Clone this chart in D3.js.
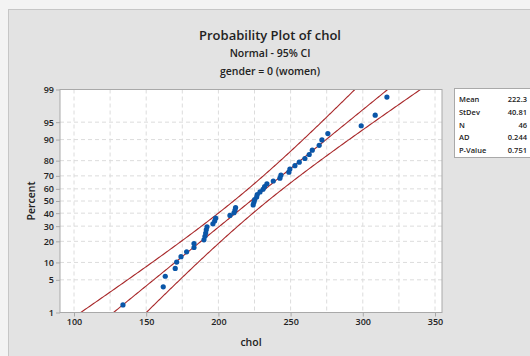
<!DOCTYPE html>
<html><head><meta charset="utf-8">
<script src="https://cdn.jsdelivr.net/npm/d3@7"></script>
<style>
body{margin:0;background:#f3f3f3;}
svg text{font-family:"Open Sans",sans-serif;}
</style></head>
<body><svg id="c" width="530" height="356"></svg>
<script>
// ---- data ----
const chol = [133.9,161.8,163.2,170.1,171.1,174.1,178.0,183.1,183.1,190.0,190.7,191.2,191.6,192.1,196.2,197.4,198.1,208.0,210.8,211.5,211.9,224.1,224.6,225.1,226.5,226.9,228.8,230.9,232.0,233.6,238.0,242.6,243.3,248.8,249.5,253.0,256.0,259.9,262.9,265.0,269.8,271.7,275.8,298.9,308.6,316.7];
const xTicks = [100,150,200,250,300,350];
const xGrid = [100,125,150,175,200,225,250,275,300,325,350];
const yTicks = [1,5,10,20,30,40,50,60,70,80,90,95,99];
const statLabels = ["Mean","StDev","N","AD","P-Value"];
const statValues = ["222.3","40.81","46","0.244","0.751"];
const mean = 222.3, sd = 40.81, n = 46;

// inverse normal CDF (Acklam)
function probit(p){
  const a=[-3.969683028665376e+01,2.209460984245205e+02,-2.759285104469687e+02,1.383577518672690e+02,-3.066479806614716e+01,2.506628277459239e+00];
  const b=[-5.447609879822406e+01,1.615858368580409e+02,-1.556989798598866e+02,6.680131188771972e+01,-1.328068155288572e+01];
  const c=[-7.784894002430293e-03,-3.223964580411365e-01,-2.400758277161838e+00,-2.549732539343734e+00,4.374664141464968e+00,2.938163982698783e+00];
  const d=[7.784695709041462e-03,3.224671290700398e-01,2.445134137142996e+00,3.754408661907416e+00];
  const pl=0.02425;
  if(p<pl){const q=Math.sqrt(-2*Math.log(p));return (((((c[0]*q+c[1])*q+c[2])*q+c[3])*q+c[4])*q+c[5])/((((d[0]*q+d[1])*q+d[2])*q+d[3])*q+1);}
  if(p>1-pl){const q=Math.sqrt(-2*Math.log(1-p));return -(((((c[0]*q+c[1])*q+c[2])*q+c[3])*q+c[4])*q+c[5])/((((d[0]*q+d[1])*q+d[2])*q+d[3])*q+1);}
  const q=p-0.5,r=q*q;
  return (((((a[0]*r+a[1])*r+a[2])*r+a[3])*r+a[4])*r+a[5])*q/(((((b[0]*r+b[1])*r+b[2])*r+b[3])*r+b[4])*r+1);
}

const svg = d3.select("#c");
// panel
svg.append("rect").attr("x",8.5).attr("y",9.5).attr("width",530).attr("height",360)
  .attr("fill","#e3e3e3").attr("stroke","#c6c6c6");

const L=60, R=442, T=89.5, B=312.5;
const x = d3.scaleLinear().domain([100,350]).range([74,435]);
const yz = d3.scaleLinear().domain([probit(0.01),probit(0.99)]).range([B,T]);
const y = p => yz(probit(p/100));

svg.append("rect").attr("x",L).attr("y",T).attr("width",R-L).attr("height",B-T).attr("fill","#fff");

// grid
const g = svg.append("g");
g.selectAll(".gx").data(xGrid).join("line")
  .attr("x1",d=>x(d)).attr("x2",d=>x(d)).attr("y1",T).attr("y2",B)
  .attr("stroke","#dcdcdc").attr("stroke-dasharray","4,3");
g.selectAll(".gy").data(yTicks.filter(d=>d>1&&d<99)).join("line")
  .attr("x1",L).attr("x2",R).attr("y1",d=>y(d)).attr("y2",d=>y(d))
  .attr("stroke","#dcdcdc").attr("stroke-dasharray","4,3");

// clip
svg.append("clipPath").attr("id","clip").append("rect").attr("x",L).attr("y",T).attr("width",R-L).attr("height",B-T);
const plot = svg.append("g").attr("clip-path","url(#clip)");

// fit and CI
const zs = d3.range(-3,3.0001,0.02);
const fitLine = d3.line().x(z=>x(mean+z*sd)).y(z=>yz(z));
const se = z => Math.sqrt(sd*sd/n*(1+z*z/2));
const lo = d3.line().x(z=>x(mean+z*sd-1.96*se(z))).y(z=>yz(z));
const hi = d3.line().x(z=>x(mean+z*sd+1.96*se(z))).y(z=>yz(z));
const red="#a8282a";
[fitLine,lo,hi].forEach(f=>plot.append("path").attr("d",f(zs)).attr("fill","none").attr("stroke",red).attr("stroke-width",1.1));

// points
const sorted = chol.slice().sort((a,b)=>a-b);
plot.selectAll("circle").data(sorted).join("circle")
  .attr("cx",d=>x(d)).attr("cy",(d,i)=>yz(probit((i+1-0.3)/(n+0.4))))
  .attr("r",2.6).attr("fill","#0a56a8");

// frame
svg.append("rect").attr("x",L).attr("y",T).attr("width",R-L).attr("height",B-T).attr("fill","none").attr("stroke","#a9a9a9");

// axes
const xa = svg.append("g").attr("transform",`translate(0,${B})`)
  .call(d3.axisBottom(x).tickValues(xTicks).tickSize(4).tickPadding(2));
const ya = svg.append("g").attr("transform",`translate(${L},0)`)
  .call(d3.axisLeft(yz).tickValues(yTicks.map(p=>probit(p/100))).tickFormat((d,i)=>yTicks[i]).tickSize(4).tickPadding(2));
[xa,ya].forEach(a=>{a.select(".domain").remove();a.selectAll("line").attr("stroke","#a9a9a9");
  a.selectAll("text").attr("font-size",9).attr("fill","#222").attr("font-weight",600);});

// titles
const t = (txt,xx,yy,size,w)=>svg.append("text").attr("x",xx).attr("y",yy).attr("text-anchor","middle")
  .attr("font-size",size).attr("font-weight",w).attr("fill","#222").text(txt);
t("Probability Plot of chol",270,40,13,600);
t("Normal - 95% CI",270,57,10.5,600);
t("gender = 0 (women)",270,75,10.5,600);
t("chol",251,346,10.5,600);
svg.append("text").attr("transform","translate(35,201) rotate(-90)").attr("text-anchor","middle")
  .attr("font-size",10.5).attr("font-weight",600).attr("fill","#222").text("Percent");

// stats box
svg.append("rect").attr("x",454.5).attr("y",88.5).attr("width",76).attr("height",69).attr("fill","#fff").attr("stroke","#a9a9a9");
const sb = svg.append("g");
sb.selectAll(".sl").data(statLabels).join("text").attr("x",459).attr("y",(d,i)=>102+i*12.8)
  .attr("font-size",7.5).attr("font-weight",600).attr("fill","#222").text(d=>d);
sb.selectAll(".sv").data(statValues).join("text").attr("x",527).attr("y",(d,i)=>102+i*12.8).attr("text-anchor","end")
  .attr("font-size",7.5).attr("font-weight",600).attr("fill","#222").text(d=>d);
</script></body></html>
